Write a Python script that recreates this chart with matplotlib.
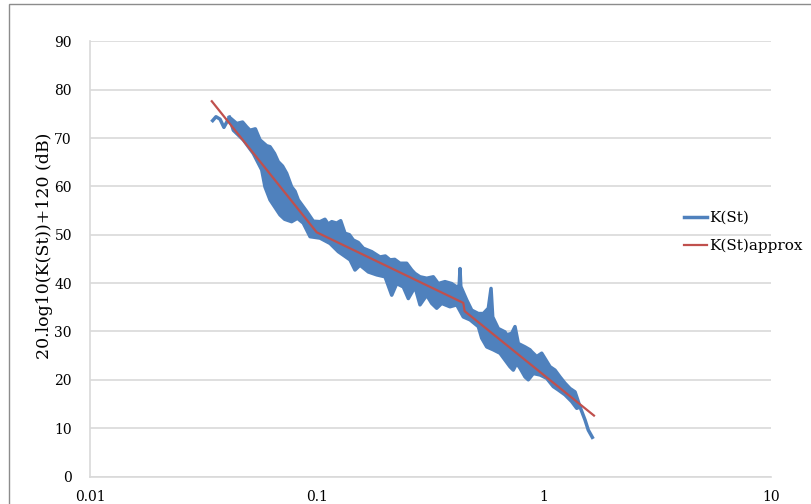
import matplotlib
matplotlib.use("Agg")
import matplotlib.pyplot as plt
from matplotlib.patches import Rectangle
import numpy as np

# data
# start of the K(St) curve (thin line part)
st_head = [0.0347, 0.0359, 0.0374, 0.0389, 0.0411]
db_head = [73.6, 74.4, 73.9, 72.2, 74.3]

# upper edge of the noisy K(St) band
st_upper = [0.0411, 0.0443, 0.0470, 0.0490, 0.0507, 0.0535, 0.0561, 0.0600, 0.0621,
            0.0650, 0.0675, 0.0705, 0.0735, 0.0773, 0.0800, 0.0827, 0.0901, 0.0963,
            0.1031, 0.1084, 0.1120, 0.1161, 0.1221, 0.1272, 0.1328, 0.1390, 0.1445,
            0.1520, 0.1600, 0.1742, 0.1895, 0.2000, 0.2098, 0.2200, 0.2320, 0.2484,
            0.2614, 0.2700, 0.2843, 0.3043, 0.3253, 0.3423, 0.3663, 0.3920, 0.4124,
            0.4230, 0.4266, 0.4300, 0.4566, 0.4803, 0.5137, 0.5404, 0.5686, 0.5844,
            0.5943, 0.6289, 0.6731, 0.6849, 0.7206, 0.7451, 0.7706, 0.8248, 0.8676,
            0.8827, 0.9286, 0.9770, 1.010, 1.063, 1.118, 1.176, 1.237, 1.302, 1.370,
            1.416, 1.441]
db_upper = [74.3, 73.0, 73.3, 72.3, 71.6, 71.9, 69.6, 68.4, 68.2,
            66.8, 65.1, 64.2, 62.7, 59.9, 59.0, 57.2, 54.8, 52.8,
            52.7, 53.2, 52.2, 52.7, 52.4, 52.9, 50.3, 50.0, 48.9,
            48.4, 47.2, 46.5, 45.4, 45.6, 44.8, 44.9, 44.1, 44.1,
            42.7, 42.0, 41.3, 41.0, 41.3, 39.9, 40.3, 39.9, 39.2,
            39.5, 43.0, 39.3, 36.5, 34.4, 33.7, 33.7, 34.8, 38.9,
            33.0, 30.6, 29.9, 29.3, 29.6, 31.0, 27.5, 26.8, 26.2,
            25.8, 24.8, 25.5, 24.4, 22.7, 22.0, 20.6, 19.3, 18.2, 17.5,
            15.5, 14.4]

# lower edge of the band
st_lower = [0.0411, 0.0428, 0.0474, 0.0524, 0.0571, 0.0590, 0.0621, 0.0687, 0.0720,
            0.0773, 0.0820, 0.0870, 0.0932, 0.1031, 0.1141, 0.1241, 0.1398, 0.1470,
            0.1547, 0.1683, 0.1832, 0.1994, 0.2134, 0.2245, 0.2400, 0.2525, 0.2702,
            0.2843, 0.3043, 0.3201, 0.3367, 0.3542, 0.3853, 0.4124, 0.4411, 0.4721,
            0.5137, 0.5317, 0.5595, 0.5981, 0.6399, 0.6731, 0.7082, 0.7324, 0.7581,
            0.7841, 0.8248, 0.8528, 0.8973, 0.9603, 1.028, 1.099, 1.156, 1.237, 1.324,
            1.394, 1.441]
db_lower = [74.3, 71.6, 69.6, 66.8, 63.4, 59.9, 57.2, 54.1, 53.2,
            52.7, 53.4, 52.4, 49.6, 49.3, 48.2, 46.5, 44.8, 42.7,
            43.7, 42.3, 41.7, 41.3, 37.5, 39.9, 39.2, 36.8, 39.2,
            35.5, 37.5, 35.8, 34.8, 35.8, 35.1, 35.5, 33.0, 32.4,
            31.0, 28.6, 26.8, 26.2, 25.5, 24.1, 22.7, 22.0, 23.4,
            22.4, 20.6, 20.0, 21.3, 21.0, 20.3, 18.6, 17.9, 16.9, 15.5,
            14.1, 14.4]

# end of the curve (thin line part)
st_tail = [1.441, 1.516, 1.567, 1.633]
db_tail = [14.4, 11.7, 9.6, 8.1]

# K(St)approx, piecewise line
st_approx = [0.0344, 0.0997, 0.441, 0.447, 1.66]
db_approx = [77.6, 50.5, 35.9, 34.2, 12.6]

blue = "#4F81BD"
red = "#C0504D"
grid = "#D9D9D9"

plt.rcParams["font.family"] = ["DejaVu Serif"]

fig = plt.figure(figsize=(8.12, 5.04), dpi=100)
ax = fig.add_axes([90 / 812, 1 - 476.5 / 504, 681 / 812, 435.2 / 504])

# band of the noisy curve
ax.fill(np.concatenate([st_upper, st_lower[::-1]]),
        np.concatenate([db_upper, db_lower[::-1]]),
        color=blue, linewidth=0)
ax.plot(st_head + st_upper + st_tail, db_head + db_upper + db_tail,
        color=blue, linewidth=2.5, solid_joinstyle="round", label="K(St)")
ax.plot(st_lower, db_lower, color=blue, linewidth=2.5, solid_joinstyle="round")

ax.plot(st_approx, db_approx, color=red, linewidth=1.6, label="K(St)approx")

ax.set_xscale("log")
ax.set_xlim(0.01, 10)
ax.set_ylim(0, 90)
ax.set_yticks(range(0, 91, 10))
ax.set_xticks([0.01, 0.1, 1, 10])
ax.set_xticklabels(["0.01", "0.1", "1", "10"])
ax.minorticks_off()
ax.tick_params(axis="both", length=0, labelsize=10)
ax.tick_params(axis="y", pad=13)
ax.tick_params(axis="x", pad=10)

ax.grid(axis="y", color=grid, linewidth=1.2)
ax.set_axisbelow(True)
for s in ["top", "right"]:
    ax.spines[s].set_visible(False)
ax.spines["left"].set_color(grid)
ax.spines["bottom"].set_color(grid)
ax.spines["left"].set_linewidth(1.2)
ax.spines["bottom"].set_linewidth(1.2)

fig.text(45 / 812, 1 - 246 / 504, "20.log10(K(St))+120 (dB)", rotation=90,
         ha="center", va="center", fontsize=12.5)

fig.legend(loc="center left", bbox_to_anchor=(670 / 812, 1 - 232 / 504),
           frameon=False, fontsize=11, handlelength=1.5, handletextpad=0.15,
           labelspacing=0.9)

# outer chart border
fig.add_artist(Rectangle((9 / 812, -0.2), 1.2, 1.2 - 4 / 504,
                         transform=fig.transFigure, fill=False,
                         edgecolor="#8C8C8C", linewidth=1.0))

fig.savefig("out.png", dpi=100)
